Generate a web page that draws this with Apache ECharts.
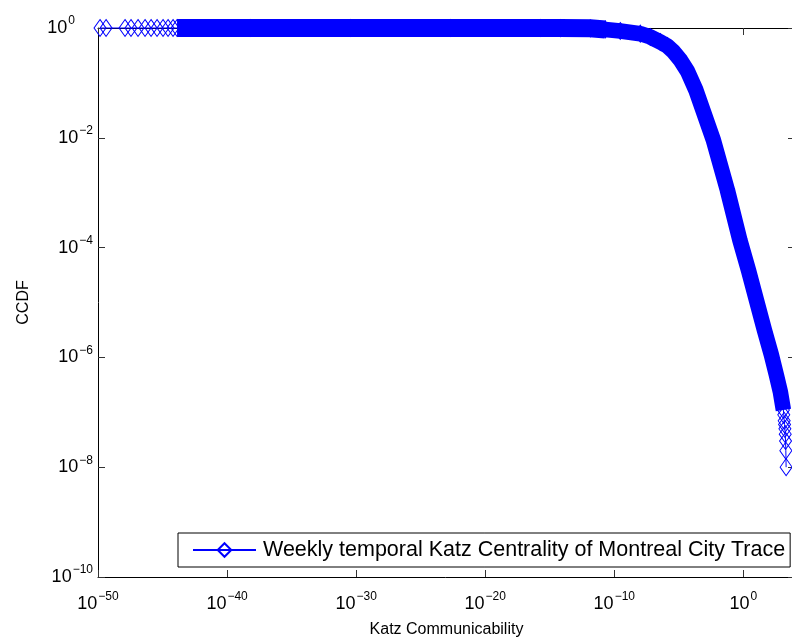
<!DOCTYPE html>
<html>
<head>
<meta charset="UTF-8" />
<title>Katz CCDF</title>
<script src="https://cdn.jsdelivr.net/npm/echarts@6/dist/echarts.min.js"></script>
<style type="text/css">
body{
	margin: 0px;
	background: #fff;
}
#chart{
	width: 792px;
	height: 639px;
}
</style>
</head>
<body>
<div id="chart"></div>

<script type="text/javascript">

var seriesName = 'Weekly temporal Katz Centrality of Montreal City Trace';

// sparse left tail (single markers)
var leftX = [1.43e-50, 4.2e-50, 1.24e-48, 3.6e-48, 1.26e-47, 4.4e-47, 1.29e-46, 3.75e-46, 1.09e-45, 2.67e-45, 6.5e-45];
var leftY = [1, 1, 1, 1, 1, 1, 1, 1, 1, 1, 1];

// dense part of the curve (read along the band centre)
var bandX = [1.33e-44, 6.0e-39, 3.4e-31, 1.95e-23, 1.8e-16, 6.5e-15, 1.38e-12, 2.0e-11, 2.9e-10,
	1.04e-8, 6.2e-8, 3.7e-7, 1.29e-6, 3.75e-6, 1.31e-5, 4.56e-5, 2.08e-4, 4.72e-3, 5.75e-2,
	0.536, 2.44, 10.2, 42.5, 148, 361, 738, 1262];
var bandY = [1, 1, 1, 1, 1, 0.995, 0.987, 0.94, 0.882,
	0.787, 0.686, 0.556, 0.47, 0.373, 0.261, 0.165, 0.0743, 9.12e-3, 1.12e-3,
	1.37e-4, 3.91e-5, 1.11e-5, 3.16e-6, 1.11e-6, 4.78e-7, 2.34e-7, 1.1e-7];

// sparse bottom tail
var tailX = [1350, 1450, 1550, 1650, 1750, 1850, 1950, 2050];
var tailY = [9e-8, 7e-8, 6e-8, 5e-8, 4e-8, 3e-8, 2e-8, 1e-8];

// axis ranges as powers of ten
var xRange = [-50, 4];
var yRange = [-10, 0];

// log10 axes: the value axis works on exponents, labels show 10^n
function zipLog(a, b){
	var out = [];
	for(var i = 0; i < a.length; i++) out.push([Math.log10(a[i]), Math.log10(b[i])]);
	return out;
}

var allPoints = zipLog(leftX, leftY).concat(zipLog(bandX, bandY), zipLog(tailX, tailY));
var bandPoints = zipLog(bandX, bandY);
var KNEE = 7;  // where the flat part of the band starts to bend

var FONT = '"Liberation Sans", Arial, Helvetica, sans-serif';
var BLUE = '#0000ff';

function expText(e){
	e = Math.round(e);
	return e < 0 ? '\u2212' + (-e) : '' + e;
}
function xLabel(e){
	return '{b|10}{s|' + expText(e) + '}';
}
function yLabel(e){
	// matlab leaves room for a minus sign on the 10^0 label
	return '{b|10}{' + (Math.round(e) === 0 ? 's0' : 's') + '|' + expText(e) + '}';
}

var richTick = {
	b: { fontSize: 18, fontFamily: FONT, color: '#000' },
	s: { fontSize: 12, fontFamily: FONT, color: '#000', padding: [0, 0, 14, 1] },
	s0: { fontSize: 12, fontFamily: FONT, color: '#000', padding: [0, 18, 14, 1] }
};

var tickStyle = { inside: true, length: 7, lineStyle: { color: '#333' } };
var axisLine = { onZero: false, lineStyle: { color: '#000', width: 1 } };

var myChart = echarts.init(document.getElementById('chart'), null, { renderer: 'canvas' });

var option = {
	animation: false,
	backgroundColor: '#fff',
	grid: { left: 98, top: 28, width: 697, height: 549, containLabel: false, outerBoundsMode: 'none' },
	legend: {
		data: [seriesName],
		left: 178,
		top: 533,
		padding: [6, 5, 6, 14],
		itemWidth: 63,
		itemHeight: 17,
		borderColor: '#000',
		borderWidth: 1,
		borderRadius: 0,
		backgroundColor: '#fff',
		textStyle: { fontSize: 21.5, fontFamily: FONT, color: '#000', padding: [0, 0, 0, 2] }
	},
	xAxis: [{
		type: 'value',
		min: xRange[0],
		max: xRange[1],
		interval: 10,
		name: 'Katz Communicability',
		nameLocation: 'middle',
		nameGap: 45,
		nameTextStyle: { fontSize: 16, fontFamily: FONT, color: '#000' },
		axisLine: axisLine,
		axisTick: tickStyle,
		axisLabel: { margin: 14, showMaxLabel: false, formatter: xLabel, rich: richTick },
		splitLine: { show: false }
	}, {
		type: 'value',
		position: 'top',
		min: xRange[0],
		max: xRange[1],
		interval: 10,
		axisLine: axisLine,
		axisTick: tickStyle,
		axisLabel: { show: false },
		splitLine: { show: false }
	}],
	yAxis: [{
		type: 'value',
		position: 'left',
		min: yRange[0],
		max: yRange[1],
		interval: 2,
		name: 'CCDF',
		nameLocation: 'middle',
		nameGap: 66,
		nameTextStyle: { fontSize: 16, fontFamily: FONT, color: '#000' },
		axisLine: axisLine,
		axisTick: tickStyle,
		axisLabel: { margin: 5, formatter: yLabel, rich: richTick },
		splitLine: { show: false }
	}, {
		type: 'value',
		position: 'right',
		min: yRange[0],
		max: yRange[1],
		interval: 2,
		axisLine: axisLine,
		axisTick: tickStyle,
		axisLabel: { show: false },
		splitLine: { show: false }
	}],
	series: [{
		name: 'band-flat',
		type: 'line',
		data: bandPoints.slice(0, KNEE + 1),
		symbol: 'none',
		clip: false,
		silent: true,
		z: 2,
		lineStyle: { color: BLUE, width: 18, join: 'round', cap: 'butt' }
	}, {
		name: 'band-drop',
		type: 'line',
		data: bandPoints.slice(KNEE - 2),
		symbol: 'none',
		clip: false,
		silent: true,
		z: 2,
		lineStyle: { color: BLUE, width: 15.5, join: 'round', cap: 'butt' }
	}, {
		name: seriesName,
		type: 'line',
		data: allPoints,
		symbol: 'diamond',
		symbolSize: [12, 17],
		clip: false,
		z: 3,
		itemStyle: { color: 'transparent', borderColor: BLUE, borderWidth: 1 },
		lineStyle: { color: BLUE, width: 1 }
	}]
};

myChart.setOption(option);

</script>
</body>
</html>
